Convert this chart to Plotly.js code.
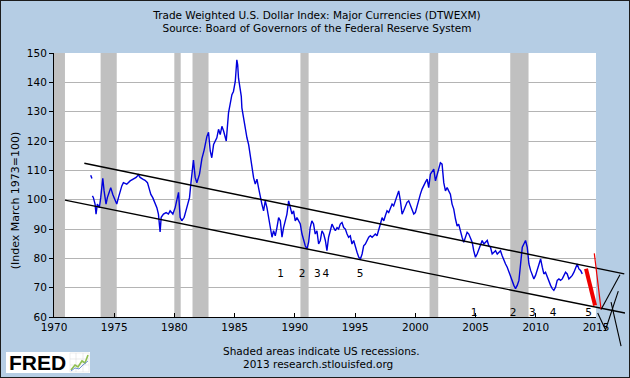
<!DOCTYPE html>
<html><head><meta charset="utf-8">
<script src="https://cdn.plot.ly/plotly-3.0.1.min.js"></script>
<style>
html,body{margin:0;padding:0;background:#B5CDE4;}
#wrap{position:relative;width:630px;height:378px;}
#chart{width:630px;height:378px;}
#frame{position:absolute;left:0;top:0;width:630px;height:378px;box-sizing:border-box;border:1px solid #1c1c1c;pointer-events:none;}
</style></head><body>
<div id="wrap"><div id="chart"></div><div id="frame"></div></div>
<script>
// ---- data ----
const years = [1973.05,1973.15,1973.17,1973.19,1973.27,1973.41,1973.49,1973.6,1973.77,1973.88,1974.05,1974.16,1974.32,1974.43,1974.6,1974.71,1974.88,1975.07,1975.21,1975.35,1975.49,1975.63,1975.76,1976.04,1976.32,1976.6,1976.82,1977.01,1977.15,1977.37,1977.56,1977.76,1977.92,1978.04,1978.2,1978.4,1978.54,1978.67,1978.81,1978.9,1979.09,1979.31,1979.5,1979.64,1979.87,1980.06,1980.25,1980.34,1980.47,1980.61,1980.81,1981.03,1981.25,1981.36,1981.44,1981.58,1981.72,1981.86,1982.08,1982.28,1982.47,1982.69,1982.83,1982.97,1983.1,1983.25,1983.52,1983.66,1983.8,1983.94,1984.08,1984.3,1984.49,1984.63,1984.77,1984.9,1985.05,1985.18,1985.25,1985.32,1985.46,1985.55,1985.6,1985.73,1985.88,1986.02,1986.16,1986.3,1986.43,1986.57,1986.71,1986.85,1986.98,1987.12,1987.26,1987.4,1987.54,1987.68,1987.82,1987.95,1988.1,1988.23,1988.37,1988.51,1988.65,1988.79,1988.93,1989.06,1989.2,1989.34,1989.48,1989.62,1989.76,1989.89,1990.03,1990.17,1990.31,1990.45,1990.59,1990.72,1990.86,1991.0,1991.14,1991.27,1991.41,1991.55,1991.69,1991.83,1991.97,1992.11,1992.25,1992.39,1992.53,1992.66,1992.8,1992.94,1993.08,1993.22,1993.36,1993.5,1993.63,1993.77,1993.91,1994.05,1994.19,1994.33,1994.46,1994.6,1994.74,1994.88,1995.02,1995.16,1995.3,1995.44,1995.58,1995.71,1995.85,1995.99,1996.13,1996.27,1996.41,1996.54,1996.68,1996.82,1996.96,1997.1,1997.24,1997.38,1997.51,1997.65,1997.79,1997.93,1998.07,1998.2,1998.34,1998.48,1998.62,1998.76,1998.9,1999.03,1999.17,1999.31,1999.45,1999.59,1999.73,1999.87,2000.0,2000.14,2000.28,2000.42,2000.56,2000.7,2000.84,2000.98,2001.11,2001.25,2001.39,2001.53,2001.67,2001.81,2001.94,2002.08,2002.22,2002.36,2002.5,2002.64,2002.77,2002.91,2003.05,2003.19,2003.33,2003.47,2003.6,2003.74,2003.88,2004.02,2004.16,2004.3,2004.44,2004.58,2004.72,2004.85,2004.99,2005.13,2005.27,2005.41,2005.55,2005.69,2005.83,2005.97,2006.1,2006.24,2006.38,2006.52,2006.66,2006.8,2006.93,2007.07,2007.21,2007.35,2007.49,2007.63,2007.77,2007.91,2008.05,2008.18,2008.32,2008.46,2008.6,2008.74,2008.88,2009.01,2009.15,2009.29,2009.43,2009.57,2009.71,2009.84,2009.98,2010.12,2010.26,2010.4,2010.54,2010.67,2010.81,2010.95,2011.09,2011.23,2011.37,2011.5,2011.64,2011.78,2011.92,2012.06,2012.2,2012.33,2012.47,2012.61,2012.75,2012.89,2013.03,2013.17,2013.31,2013.44,2013.58,2013.72,2013.86];
const values = [108.3,107.2,null,101.3,100.7,98.5,95.1,98.5,97.3,100.7,107.3,103,98.5,100.7,103,104.1,101.8,99.6,98.5,100.7,103,104.7,105.8,105.3,106.4,107,107.6,108.5,107.6,107,106.6,105.8,103,101.8,100.7,99,97.3,95.1,89,94,95.1,95.6,95.1,96.2,95.1,97.3,100.7,102.5,94,92.8,94,97.3,100.7,105.3,108.7,113.5,107.6,105.8,108.7,114,117,121.5,123,116.6,114.3,118.8,121.1,124,122.2,125,123.4,120,129.6,132.4,135.8,136.9,140.3,147.7,146,141.4,138,135.2,131.3,128,124,121.1,118.8,114.8,110.3,107.5,105.3,107,104.1,100.7,98.5,96.2,99.6,97.3,93.9,90.5,87.2,89.4,87.7,90.5,93.9,92.8,87.2,90.5,92.8,95.1,99.6,97.3,95.1,96.2,92.8,93.9,92.8,91.7,88.3,86.1,84.3,83.2,85.5,90.5,92.8,91.7,88.3,89.4,84.9,86.1,89.4,88.3,86.1,82.6,87.2,89.4,91.7,90.5,89.4,90.5,90,91.7,92.2,90.5,90,88.3,87.2,87.7,84.9,86.1,83.8,82.1,80.4,79.8,81.5,84.3,84.9,86.1,87.2,87.7,87.2,87.7,88.3,87.7,89.4,91.7,93.9,92.8,94.5,96.2,95.6,96.8,98.5,97.9,99.6,100.7,103,99.6,95.1,96.2,97.9,99.1,99.6,97.9,96.2,95.1,95.6,97.9,99.6,101.9,103.6,105,106,107,104.1,108.7,109.8,110.4,106.4,108.7,111,112.6,112.1,105.8,103,104.1,103,101.9,98.5,96.8,93.5,91,91.7,88.9,87.2,85.5,87.2,88.9,88.3,86.6,85.5,82.6,80.4,81.5,83.2,84.9,86.1,84.9,85.5,86.1,84.3,83.8,81.5,82.1,82.6,81.5,82.1,82.6,80.9,79.2,78.1,77,75.3,73.6,72.5,70.8,69.7,70.8,72.5,78.1,83.8,84.9,86.1,83.8,78.1,75.9,74.7,73,74.2,75.9,78.1,79.8,77,74.7,75.3,73.6,72.5,70.8,69.7,69.1,70.2,72.5,73,72.5,73,74.2,75.3,74.7,73,73.6,74.2,75.3,77,78.1,76.4,75.9,74.7];

const recessionStart = [1969.92,1973.87,1979.99,1981.5,1990.46,2001.18,2007.88];
const recessionEnd   = [1970.91,1975.21,1980.52,1982.83,1991.14,2001.9,2009.4];

const xTicks = [1970,1975,1980,1985,1990,1995,2000,2005,2010,2015];
const yTicks = [60,70,80,90,100,110,120,130,140,150];

// hand-drawn overlay lines (year, index value)
const upperTrendX = [1972.52, 2017.35], upperTrendY = [112.4, 74.73];
const lowerTrendX = [1970.91, 2017.41], lowerTrendY = [99.84, 61.36];
const redThickX = [2014.17, 2014.92], redThickY = [76.43, 63.97];
const redThinX  = [2014.86, 2015.42], redThinY  = [81.72, 62.6];
const blackMarkX = [[2015.42,2016.99],[2015.14,2015.79],[2015.79,2016.85],[2016.25,2017.08]];
const blackMarkY = [[62.6,74.39],[61.36,55.66],[55.66,68.83],[65.09,50.06]];

const countLabels = ['1','2','3','4','5'];
const count1X = [1988.82,1990.59,1991.86,1992.56,1995.42], count1Y = [74.4,74.4,74.4,74.4,74.4];
const count2X = [2004.87,2008.11,2009.71,2011.43,2014.39], count2Y = [61.4,61.4,61.4,61.4,61.4];

// ---- geometry ----
const W = 630, H = 378;
const PL = 54, PR = 625, PT = 52.5, PB = 347;   // whole drawing area (incl. overlay)
const MR = 596, MB = 317;                        // main chart right / bottom
const xDomEnd = (MR - PL) / (PR - PL);
const yDomStart = (PB - MB) / (PB - PT);
const x2Range = [1970, 1970 + 45 / xDomEnd];
const y2Range = [150 - 90 / (1 - yDomStart), 150];
const px = v => (v - PL) / (PR - PL);
const py = v => (PB - v) / (PB - PT);

const FONT = 'DejaVu Sans';
const traces = [];
for (let i = 0; i < recessionStart.length; i++) {
  const s = recessionStart[i], e = recessionEnd[i];
  traces.push({x:[s,s,e,e,s], y:[60,150,150,60,60], mode:'lines', fill:'toself',
    fillcolor:'#C0C0C0', line:{width:0, color:'#C0C0C0'}, hoverinfo:'skip', showlegend:false});
}
traces.push({x:years, y:values, mode:'lines', line:{color:'#0000DD', width:1.4}, connectgaps:false, showlegend:false});

const ov = (x, y, color, w) => ({x, y, xaxis:'x2', yaxis:'y2', mode:'lines', line:{color, width:w}, showlegend:false, hoverinfo:'skip'});
traces.push(ov(upperTrendX, upperTrendY, '#000', 1.4));
traces.push(ov(lowerTrendX, lowerTrendY, '#000', 1.4));
traces.push(ov(redThickX, redThickY, '#EE0000', 4));
traces.push(ov(redThinX, redThinY, '#EE0000', 1.2));
for (let i = 0; i < blackMarkX.length; i++) traces.push(ov(blackMarkX[i], blackMarkY[i], '#000', 1.1));
const txt = (x, y) => ({x, y, text:countLabels, xaxis:'x2', yaxis:'y2', mode:'text', cliponaxis:false,
  textfont:{family:FONT, size:10.5, color:'#000'}, showlegend:false, hoverinfo:'skip'});
traces.push(txt(count1X, count1Y));
traces.push(txt(count2X, count2Y));

// small FRED chart icon drawn with paper shapes (pixel positions -> paper)
const pathFrom = pts => pts.map((p, i) => (i ? 'L' : 'M') + px(p[0]).toFixed(5) + ',' + py(p[1]).toFixed(5)).join(' ');
const iconShapes = [
  {type:'rect', xref:'paper', yref:'paper', x0:px(70), x1:px(89), y0:py(372), y1:py(353), fillcolor:'#FFFFFF', line:{color:'#E4E4E4', width:0.6}, layer:'above'},
  {type:'path', xref:'paper', yref:'paper', path: pathFrom([[70,359],[89,359]]), line:{color:'#DDDDDD', width:0.6}, layer:'above'},
  {type:'path', xref:'paper', yref:'paper', path: pathFrom([[70,365],[89,365]]), line:{color:'#DDDDDD', width:0.6}, layer:'above'},
  {type:'path', xref:'paper', yref:'paper', path: pathFrom([[76,353],[76,372]]), line:{color:'#DDDDDD', width:0.6}, layer:'above'},
  {type:'path', xref:'paper', yref:'paper', path: pathFrom([[83,353],[83,372]]), line:{color:'#DDDDDD', width:0.6}, layer:'above'},
  {type:'path', xref:'paper', yref:'paper', path: pathFrom([[71,370],[75,365],[78,367],[82,361],[85,363],[88,355]]), line:{color:'#8FBF4F', width:1.6}, layer:'above'},
  {type:'path', xref:'paper', yref:'paper', path: pathFrom([[71,371],[75,368],[79,369],[83,365],[88,361]]), line:{color:'#6B8FD0', width:1}, layer:'above'}
];

const layout = {
  width: W, height: H,
  paper_bgcolor: '#B5CDE4', plot_bgcolor: 'rgba(0,0,0,0)',
  margin: {l: PL, r: W - PR, t: PT, b: H - PB, pad: 0},
  showlegend: false,
  font: {family: FONT, size: 10.5, color: '#000'},
  title: {text: 'Trade Weighted U.S. Dollar Index: Major Currencies (DTWEXM)<br>Source: Board of Governors of the Federal Reserve System',
    font: {family: FONT, size: 10.5, color: '#000'}, x: 317/630, xanchor: 'center', xref: 'container',
    y: 1 - 18.5/H, yanchor: 'middle', yref: 'container'},
  xaxis: {domain: [0, xDomEnd], range: [1970, 2015], tickvals: xTicks, ticktext: xTicks.map(String),
    ticks: 'inside', ticklen: 4, tickcolor: '#000', showline: true, linecolor: '#000', linewidth: 1,
    showgrid: false, zeroline: false, tickfont: {family: FONT, size: 10.5, color: '#000'}, anchor: 'y', fixedrange: true},
  yaxis: {domain: [yDomStart, 1], range: [60, 150], tickvals: yTicks, ticks: 'outside', ticklen: 4, tickcolor: '#000',
    showline: true, linecolor: '#000', linewidth: 1, showgrid: true, gridcolor: '#B4B4B4', gridwidth: 1,
    zeroline: false, tickfont: {family: FONT, size: 10.5, color: '#000'}, anchor: 'x', fixedrange: true},
  xaxis2: {domain: [0, 1], range: x2Range, visible: false, anchor: 'y2', fixedrange: true},
  yaxis2: {domain: [0, 1], range: y2Range, visible: false, anchor: 'x2', fixedrange: true},
  shapes: [
    {type: 'rect', xref: 'x', yref: 'y', x0: 1970, x1: 2015, y0: 60, y1: 150, fillcolor: '#FFFFFF', line: {width: 0}, layer: 'below'},
    {type: 'rect', xref: 'paper', yref: 'paper', x0: px(6), x1: px(90), y0: py(373), y1: py(352), fillcolor: '#FFFFFF', line: {width: 0}, layer: 'above'}
  ].concat(iconShapes),
  annotations: [
    {text: '(Index March 1973=100)', xref: 'paper', yref: 'paper', x: px(15), y: py(200), textangle: -90,
      showarrow: false, xanchor: 'center', yanchor: 'middle', font: {family: FONT, size: 11, color: '#000'}},
    {text: 'Shaded areas indicate US recessions.', xref: 'paper', yref: 'paper', x: px(321), y: py(351.5),
      showarrow: false, xanchor: 'center', yanchor: 'middle', font: {family: FONT, size: 10.5, color: '#000'}},
    {text: '2013 research.stlouisfed.org', xref: 'paper', yref: 'paper', x: px(317.5), y: py(364.5),
      showarrow: false, xanchor: 'center', yanchor: 'middle', font: {family: FONT, size: 10.5, color: '#000'}},
    {text: '<b>FRED</b>', xref: 'paper', yref: 'paper', x: px(6.5), y: py(362.5),
      showarrow: false, xanchor: 'left', yanchor: 'middle', font: {family: 'Liberation Sans', size: 21, color: '#000'}}
  ]
};
Plotly.newPlot('chart', traces, layout, {staticPlot: true, displayModeBar: false});
</script>
</body></html>
